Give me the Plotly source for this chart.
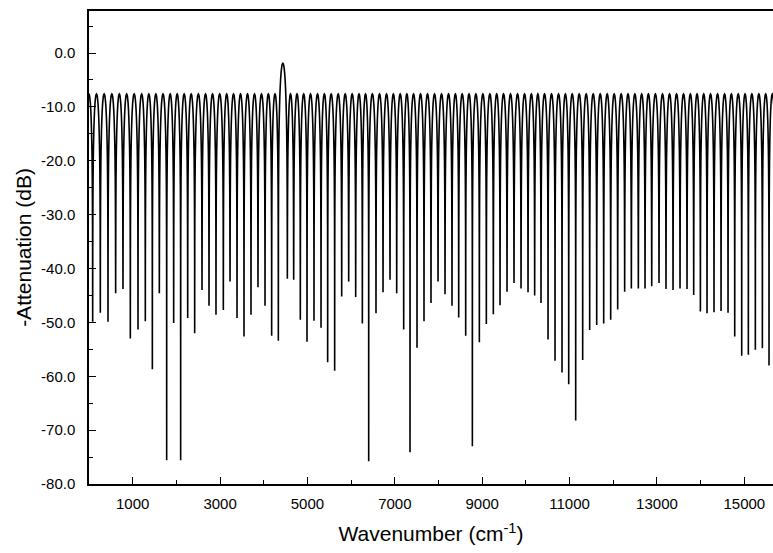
import plotly.graph_objects as go

# ---- data ----
# wavenumbers (cm^-1) of the transmission nulls
null_wn = [84, 259, 435, 610, 778, 946, 1122, 1289, 1450, 1610, 1778, 1938, 2098, 2259, 2419, 2587,
           2747, 2907, 3075, 3228, 3388, 3548, 3708, 3868, 4029, 4181, 4334, 4540, 4685, 4837, 4990, 5150,
           5311, 5463, 5623, 5784, 5944, 6104, 6257, 6402, 6569, 6730, 6890, 7043, 7203, 7348, 7508, 7668,
           7828, 7989, 8149, 8309, 8462, 8622, 8775, 8935, 9095, 9255, 9408, 9568, 9728, 9889, 10049, 10201,
           10346, 10507, 10667, 10827, 10980, 11140, 11300, 11460, 11621, 11781, 11941, 12101, 12261, 12414,
           12574, 12727, 12880,
           13047, 13207, 13368, 13528, 13688, 13841, 13994, 14146, 14306, 14467, 14627, 14780, 14940, 15092,
           15252, 15413, 15565]
# depth of each null (dB)
null_db = [-49.9, -48.2, -49.9, -44.6, -43.8, -53.0, -51.3, -49.8, -58.7, -44.6, -75.6, -50.1, -75.6, -49.2, -52.0, -44.0,
           -46.9, -48.6, -47.7, -42.4, -49.2, -52.6, -48.6, -43.5, -46.9, -52.5, -53.4, -41.9, -42.1, -49.5, -53.6, -49.7,
           -51.0, -57.4, -59.0, -45.2, -42.4, -45.3, -50.2, -75.8, -48.3, -44.4, -42.1, -44.6, -51.3, -74.1, -54.7, -49.8,
           -46.4, -42.4, -44.8, -46.9, -49.1, -52.5, -73.0, -53.7, -50.3, -48.5, -46.8, -44.3, -42.7, -43.7, -44.4, -45.0,
           -46.4, -53.2, -57.1, -59.3, -61.5, -68.2, -57.0, -51.4, -50.5, -50.2, -49.5, -47.6, -44.3, -43.7, -43.7, -43.7, -43.3,
           -42.7, -43.8, -44.0, -43.7, -43.8, -44.9, -48.0, -48.3, -48.1, -47.9, -48.2, -52.6, -56.2, -56.0, -55.1, -54.8, -58.0]
# lobe top level (dB) and the single passband peak
lobe_peak_db = -7.6
passband_wn = 4448
passband_db = -1.9
# lobe profile: fraction of the lobe from a null, dB below the lobe top
lobe_frac = [0.0, 0.01, 0.02, 0.035, 0.05, 0.075, 0.1, 0.15, 0.2, 0.25, 0.3, 0.35, 0.4, 0.45, 0.5]
lobe_rel_db = [None, -30.1, -24.0, -19.2, -16.1, -12.6, -10.2, -6.9, -4.6, -3.0, -1.8, -1.0, -0.4, -0.1, 0.0]

# axis ticks
x_ticks = [1000, 3000, 5000, 7000, 9000, 11000, 13000, 15000]
x_ticktext = ["1000", "3000", "5000", "7000", "9000", "11000", "13000", "15000"]
x_minor = [2000, 4000, 6000, 8000, 10000, 12000, 14000]
y_ticks = [0, -10, -20, -30, -40, -50, -60, -70, -80]
y_ticktext = ["0.0", "-10.0", "-20.0", "-30.0", "-40.0", "-50.0", "-60.0", "-70.0", "-80.0"]
y_minor = [5, -5, -15, -25, -35, -45, -55, -65, -75]

# ---- build the curve ----
nulls = [null_wn[0] - (null_wn[1] - null_wn[0])] + null_wn + [null_wn[-1] + (null_wn[-1] - null_wn[-2])]
depths = [-50.0] + null_db + [-50.0]
xs, ys = [], []
for i in range(len(nulls) - 1):
    a, b = nulls[i], nulls[i + 1]
    top = passband_db if a < passband_wn < b else lobe_peak_db
    w = b - a
    for f, r in zip(lobe_frac, lobe_rel_db):
        xs.append(a + f * w)
        ys.append(depths[i] if r is None else top + r)
    for f, r in zip(reversed(lobe_frac[:-1]), reversed(lobe_rel_db[:-1])):
        if r is None:
            continue
        xs.append(b - f * w)
        ys.append(top + r)
xs.append(nulls[-1])
ys.append(depths[-1])

font_family = "Liberation Sans, Arial, Helvetica, sans-serif"

fig = go.Figure()
fig.add_trace(go.Scatter(x=xs, y=ys, mode="lines",
                         line=dict(color="black", width=1.6, simplify=False),
                         hoverinfo="skip", showlegend=False))

fig.update_layout(
    width=773, height=553,
    margin=dict(l=89, r=0, t=11, b=69),
    paper_bgcolor="white", plot_bgcolor="white",
    font=dict(family=font_family, color="black"),
    showlegend=False,
)
fig.update_xaxes(
    range=[0, 15656], showgrid=False, zeroline=False,
    showline=True, linecolor="black", linewidth=1.5, mirror=True,
    tickmode="array", tickvals=x_ticks, ticktext=x_ticktext,
    ticks="inside", ticklen=7, tickwidth=1, tickcolor="black",
    minor=dict(tickmode="array", tickvals=x_minor, ticks="inside", ticklen=4, tickcolor="black", tickwidth=1),
    tickfont=dict(size=15), ticklabelstandoff=5,
    title=dict(text="Wavenumber (cm<sup>-1</sup>)", font=dict(size=21), standoff=16),
)
fig.update_yaxes(
    range=[-80, 7.8], showgrid=False, zeroline=False,
    showline=True, linecolor="black", linewidth=1.5, mirror=False,
    tickmode="array", tickvals=y_ticks, ticktext=y_ticktext,
    ticks="inside", ticklen=7, tickwidth=1, tickcolor="black",
    minor=dict(tickmode="array", tickvals=y_minor, ticks="inside", ticklen=4, tickcolor="black", tickwidth=1),
    tickfont=dict(size=15), ticklabelstandoff=9,
    title=dict(text="-Attenuation (dB)", font=dict(size=21), standoff=4),
)

fig.write_html("out.html")
